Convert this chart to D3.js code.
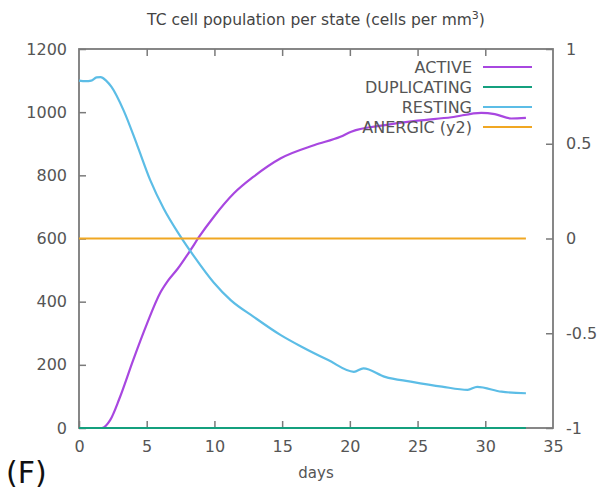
<!DOCTYPE html>
<html lang="en">
<head>
<meta charset="UTF-8">
<title>TC cell population per state</title>
<script src="https://d3js.org/d3.v7.min.js"></script>
<style>
  body { margin: 0; background: #fff; }
  text { font-family: "DejaVu Sans", sans-serif; }
</style>
</head>
<body>
<div id="chart"></div>
<script>
// data: [day, cells per mm3]
const activePts = [[0,0],[1.68,0],[2.3,25],[3.0,95],[4.0,215],[5.0,328],[6.0,428],[6.6,468],[7.3,505],[8.23,563],[8.85,604],[9.96,669],[11.44,743],[12.9,796],[14.9,854],[17.4,896],[19.3,922],[20.1,938],[22.6,959],[25,973],[27.5,984],[29.7,998],[30.7,994],[31.9,980],[33,982]];
const duplicatingPts = [[0,0],[33,0]];
const restingPts = [[0,1100],[0.5,1098],[0.9,1100],[1.3,1110],[1.6,1111],[2.0,1100],[2.4,1080],[3.3,1005],[4.3,895],[5.26,785],[6.25,695],[7.5,606],[8.47,545],[9.96,460],[11.2,405],[12.9,352],[14.9,294],[16.4,258],[18.4,215],[20.3,178],[21,189],[22.6,162],[24.5,147],[26.8,131],[28.7,121],[29.4,130],[31.2,115],[33,110]];
const anergicPts = [[0,0],[33,0]]; // plotted on y2

const xTicks = [0,5,10,15,20,25,30,35];
const yTicks = [0,200,400,600,800,1000,1200];
const y2Ticks = [-1,-0.5,0,0.5,1];

const series = [
  {name: "ACTIVE", pts: activePts, color: "#a847e0", axis: "y"},
  {name: "DUPLICATING", pts: duplicatingPts, color: "#14a07e", axis: "y"},
  {name: "RESTING", pts: restingPts, color: "#5cbde6", axis: "y"},
  {name: "ANERGIC (y2)", pts: anergicPts, color: "#f0a723", axis: "y2"}
];

const W = 600, H = 497;
const margin = {top: 49, right: 47, bottom: 69, left: 79};
const width = W - margin.left - margin.right,
      height = H - margin.top - margin.bottom;

const svg = d3.select("#chart").append("svg")
    .attr("width", W).attr("height", H);
const g = svg.append("g").attr("transform", `translate(${margin.left},${margin.top})`);

const x = d3.scaleLinear().domain([0, 35]).range([0, width]);
const y = d3.scaleLinear().domain([0, 1200]).range([height, 0]);
const y2 = d3.scaleLinear().domain([-1, 1]).range([height, 0]);

const axisColor = "#7a7a7a", labelColor = "#555";

// axes, gnuplot style: ticks pointing inward
const xAxis = g.append("g").attr("transform", `translate(0,${height})`)
    .call(d3.axisBottom(x).tickValues(xTicks).tickSize(-7).tickPadding(13).tickFormat(d3.format("d")));
const xTop = g.append("g")
    .call(d3.axisTop(x).tickValues(xTicks).tickSize(-7).tickFormat(""));
const yAxis = g.append("g")
    .call(d3.axisLeft(y).tickValues(yTicks).tickSize(-7).tickPadding(12).tickFormat(d3.format("d")));
const y2Axis = g.append("g").attr("transform", `translate(${width},0)`)
    .call(d3.axisRight(y2).tickValues(y2Ticks).tickSize(-7).tickPadding(13).tickFormat(d => String(d)));

[xAxis, xTop, yAxis, y2Axis].forEach(a => {
  a.select(".domain").remove();
  a.selectAll(".tick line").attr("stroke", axisColor).attr("stroke-width", 1.5);
  a.selectAll(".tick text").attr("fill", labelColor).style("font-size", "16px");
});
y2Axis.selectAll(".tick text").attr("text-anchor", "start");
// no tick marks drawn on the corners
xAxis.selectAll(".tick").filter(d => d === 35).select("line").remove();
xTop.selectAll(".tick").filter(d => d === 35 || d === 0).select("line").remove();

// border
g.append("rect").attr("width", width).attr("height", height)
    .attr("fill", "none").attr("stroke", axisColor).attr("stroke-width", 1.8);

// lines
const line = d3.line().curve(d3.curveMonotoneX);
series.forEach(s => {
  const ys = s.axis === "y2" ? y2 : y;
  g.append("path")
      .datum(s.pts)
      .attr("fill", "none")
      .attr("stroke", s.color)
      .attr("stroke-width", 2.2)
      .attr("d", line.x(d => x(d[0])).y(d => ys(d[1])));
});

// legend
const legend = g.append("g").attr("transform", `translate(${width - 73},18)`);
series.forEach((s, i) => {
  const row = legend.append("g").attr("transform", `translate(0,${i * 20})`);
  row.append("text").attr("x", -8).attr("dy", "0.35em")
      .attr("text-anchor", "end").attr("fill", labelColor)
      .style("font-size", "16px").text(s.name);
  row.append("line").attr("x1", 3).attr("x2", 52)
      .attr("stroke", s.color).attr("stroke-width", 2.2);
});

// title with superscript
const title = svg.append("text")
    .attr("x", margin.left + width / 2).attr("y", 25)
    .attr("text-anchor", "middle").attr("fill", "#444")
    .style("font-size", "15.5px");
title.append("tspan").text("TC cell population per state (cells per mm");
title.append("tspan").attr("dy", -6).style("font-size", "11px").text("3");
title.append("tspan").attr("dy", 6).text(")");

// x label
svg.append("text")
    .attr("x", margin.left + width / 2).attr("y", 478)
    .attr("text-anchor", "middle").attr("fill", labelColor)
    .style("font-size", "15px").text("days");

// panel letter
svg.append("text")
    .attr("x", 6).attr("y", 483)
    .attr("fill", "#111")
    .style("font-size", "30px").text("(F)");
</script>
</body>
</html>
